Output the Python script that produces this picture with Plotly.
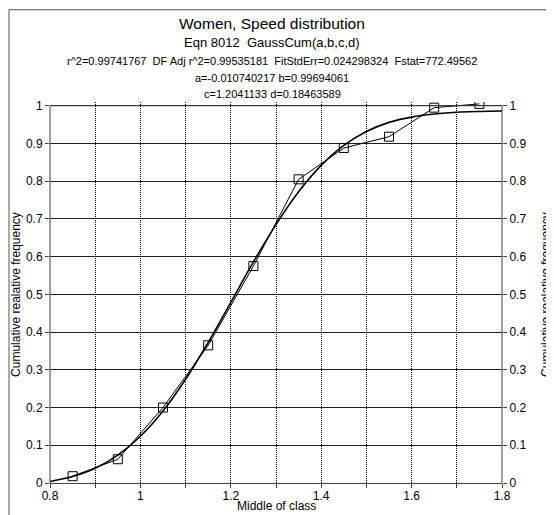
import plotly.graph_objects as go

# Data points (middle of class vs cumulative relative frequency)
class_mid = [0.85, 0.95, 1.05, 1.15, 1.25, 1.35, 1.45, 1.55, 1.65, 1.75]
cum_freq = [0.018, 0.063, 0.200, 0.365, 0.575, 0.805, 0.888, 0.918, 0.995, 1.005]

# Fitted curve
fit_x = [0.80, 0.85, 0.90, 0.95, 1.00, 1.05, 1.10, 1.15, 1.20, 1.25, 1.30,
         1.35, 1.40, 1.45, 1.50, 1.55, 1.60, 1.65, 1.70, 1.75, 1.80]
fit_y = [0.004, 0.017, 0.039, 0.074, 0.124, 0.191, 0.275, 0.373, 0.479, 0.586, 0.685,
         0.772, 0.842, 0.895, 0.932, 0.956, 0.970, 0.978, 0.983, 0.985, 0.986]

title_lines = [
    ("Women, Speed distribution", 15.5, 24),
    ("Eqn 8012  GaussCum(a,b,c,d)", 13, 43),
    ("r^2=0.99741767  DF Adj r^2=0.99535181  FitStdErr=0.024298324  Fstat=772.49562", 11, 61),
    ("a=-0.010740217 b=0.99694061", 11, 78),
    ("c=1.2041133 d=0.18463589", 11, 94),
]
x_title = "Middle of class"
y_title = "Cumulative realative frequency"

FONT = "Liberation Sans, Arial, sans-serif"
OFF = 8                      # page body margin
W, H = 538, 507
# plot area in screen pixels: x 50..502, y(1.0)=106, y(0)=483
SX0, SX1, SY1, SY0 = 50, 502, 106, 483
YMAX = 1.01
unit = SY0 - SY1
L = SX0 - OFF
R = W - (SX1 - OFF)
B = H - (SY0 - OFF)
T = (SY1 - OFF) - (YMAX - 1) * unit

pw = W - L - R
ph = H - T - B
def px(sx):
    return (sx - OFF - L) / pw
def py(sy):
    return (H - B - (sy - OFF)) / ph

fig = go.Figure()
fig.add_trace(go.Scatter(x=fit_x, y=fit_y, mode="lines", line=dict(color="black", width=1.6, shape="spline"),
                         showlegend=False, hoverinfo="skip"))
fig.add_trace(go.Scatter(x=class_mid, y=cum_freq, mode="lines+markers",
                         line=dict(color="black", width=1),
                         marker=dict(symbol="square-open", size=9, color="black", line=dict(width=1)),
                         showlegend=False))
# invisible trace for right axis
fig.add_trace(go.Scatter(x=[0.8], y=[0], yaxis="y2", mode="markers", marker=dict(opacity=0),
                         showlegend=False, hoverinfo="skip"))

axis_common = dict(ticks="outside", ticklen=4, tickcolor="#404040", automargin=False,
                   tickfont=dict(family=FONT, size=12, color="black"), zeroline=False)

fig.update_layout(
    width=W, height=H,
    margin=dict(l=L, r=R, t=T, b=B, autoexpand=False),
    paper_bgcolor="white", plot_bgcolor="white",
    xaxis=dict(range=[0.8, 1.8], dtick=0.2, tick0=0.8, tickformat="~g", ticklabelstandoff=-2,
               showline=True, linecolor="#404040", linewidth=1,
               showgrid=True, gridcolor="black", gridwidth=1, griddash="1px,1px",
               minor=dict(dtick=0.1, tick0=0.8, showgrid=True, gridcolor="black", griddash="1px,1px",
                          ticks="outside", ticklen=4, tickcolor="#404040"),
               **axis_common),
    yaxis=dict(range=[0, YMAX], tickvals=[i / 10 for i in range(11)], tickformat="~g",
               showline=False, showgrid=True, gridcolor="#202020", gridwidth=1, **axis_common),
    yaxis2=dict(range=[0, YMAX], tickvals=[i / 10 for i in range(11)], tickformat="~g",
                overlaying="y", side="right", showline=False, showgrid=False, **axis_common),
    font=dict(family=FONT, color="black"),
)
# hide grid above 1.0
fig.add_shape(type="rect", xref="paper", yref="y", x0=0, x1=1, y0=1.0005, y1=YMAX,
              fillcolor="white", line=dict(width=0), layer="between")
# plot frame: top, left, right
fig.add_shape(type="line", xref="paper", yref="y", x0=0, x1=1, y0=1, y1=1,
              line=dict(color="#404040", width=1))
fig.add_shape(type="line", xref="paper", yref="y", x0=0, x1=0, y0=0, y1=1,
              line=dict(color="#404040", width=1))
fig.add_shape(type="line", xref="paper", yref="y", x0=1, x1=1, y0=0, y1=1,
              line=dict(color="#404040", width=1))

for text, size, sy in title_lines:
    fig.add_annotation(text=text, xref="paper", yref="paper", x=px(272), y=py(sy),
                       showarrow=False, font=dict(family=FONT, size=size, color="black"),
                       xanchor="center", yanchor="middle")

fig.add_annotation(text=x_title, xref="paper", yref="paper", x=px(276), y=py(506),
                   showarrow=False, font=dict(family=FONT, size=12), xanchor="center", yanchor="middle",
                   borderpad=0)
fig.add_annotation(text=y_title, xref="paper", yref="paper", x=px(16), y=py(295), textangle=-90,
                   showarrow=False, font=dict(family=FONT, size=12), xanchor="center", yanchor="middle")
fig.add_annotation(text=y_title, xref="paper", yref="paper", x=px(546), y=py(295), textangle=-90,
                   showarrow=False, font=dict(family=FONT, size=12), xanchor="center", yanchor="middle")

# outer chart border (left and top)
fig.add_shape(type="line", xref="paper", yref="paper", x0=px(9), x1=px(9), y0=py(10), y1=py(520),
              line=dict(color="#555555", width=1))
fig.add_shape(type="line", xref="paper", yref="paper", x0=px(9), x1=px(560), y0=py(10), y1=py(10),
              line=dict(color="#555555", width=1))

fig.write_html("out.html")
